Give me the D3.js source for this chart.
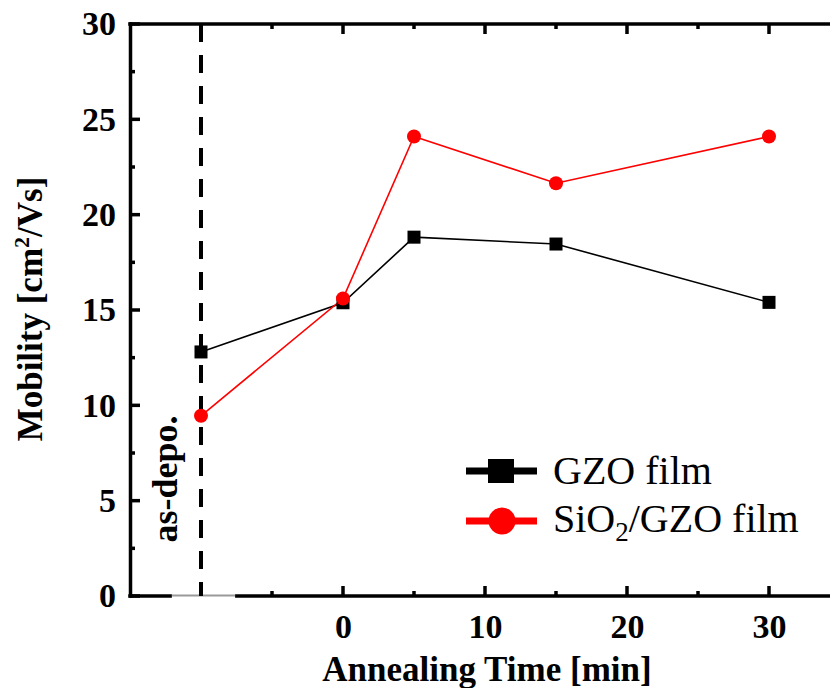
<!DOCTYPE html>
<html>
<head>
<meta charset="utf-8">
<script src="https://cdn.jsdelivr.net/npm/d3@7"></script>
<style>
  html, body { margin: 0; padding: 0; background: #fff; }
  svg { display: block; font-family: "Liberation Serif", "Times New Roman", serif; }
</style>
</head>
<body>
<svg id="chart" width="830" height="688"></svg>
<script>
// Annealing times (min); the as-deposited sample sits at -10 on the time axis
const times = [-10, 0, 5, 15, 30];
const gzoMobility = [12.8, 15.38, 18.82, 18.46, 15.4];
const sio2GzoMobility = [9.45, 15.6, 24.1, 21.65, 24.1];

const xTickLabels = [0, 10, 20, 30];
const xMajorTicks = [-10, 0, 10, 20, 30];
const xMinorTicks = [-5, 5, 15, 25];
const yTickLabels = [0, 5, 10, 15, 20, 25, 30];
const yMinorTicks = [2.5, 7.5, 12.5, 17.5, 22.5, 27.5];
const asDepoTime = -10;
const axisBreak = [-12.05, -7.6];

const svg = d3.select("#chart");
const x = d3.scaleLinear().domain([-15, 35]).range([130, 840]);
const y = d3.scaleLinear().domain([0, 30]).range([596, 24]);

const spineW = 3.5;
const majorLen = 10, minorLen = 5;
const serif = "Liberation Serif, Times New Roman, serif";

// bottom axis labels
const gx = svg.append("g").attr("transform", `translate(0,${y(0)})`)
  .call(d3.axisBottom(x).tickValues(xTickLabels).tickSizeInner(0).tickSizeOuter(0).tickPadding(18));
gx.select(".domain").remove();
gx.selectAll("text").attr("font-size", 34).attr("font-weight", "bold")
  .attr("font-family", serif).attr("fill", "#000");

// left axis labels
const gy = svg.append("g").attr("transform", `translate(${x(-15)},0)`)
  .call(d3.axisLeft(y).tickValues(yTickLabels).tickSizeInner(0).tickSizeOuter(0).tickPadding(14));
gy.select(".domain").remove();
gy.selectAll("text").attr("font-size", 34).attr("font-weight", "bold")
  .attr("font-family", serif).attr("fill", "#000");

const frame = svg.append("g").attr("stroke", "#000").attr("stroke-width", spineW);

// tick marks on all four sides, pointing inward
xMajorTicks.concat(xMinorTicks).forEach(v => {
  const len = xMinorTicks.includes(v) ? minorLen : majorLen;
  if (v !== asDepoTime) {
    frame.append("line").attr("x1", x(v)).attr("x2", x(v)).attr("y1", y(0)).attr("y2", y(0) - len);
  }
  frame.append("line").attr("x1", x(v)).attr("x2", x(v)).attr("y1", y(30)).attr("y2", y(30) + len);
});
yTickLabels.concat(yMinorTicks).forEach(v => {
  const len = yMinorTicks.includes(v) ? minorLen : majorLen;
  frame.append("line").attr("x1", x(-15)).attr("x2", x(-15) + len).attr("y1", y(v)).attr("y2", y(v));
  frame.append("line").attr("x1", x(35)).attr("x2", x(35) - len).attr("y1", y(v)).attr("y2", y(v));
});

// spines; the bottom one is broken around the as-deposited position
frame.append("line").attr("x1", x(-15) + 0.5).attr("x2", x(-15) + 0.5).attr("y1", y(0) + spineW / 2).attr("y2", y(30) - spineW / 2);
frame.append("line").attr("x1", x(35)).attr("x2", x(35)).attr("y1", y(0)).attr("y2", y(30));
frame.append("line").attr("x1", x(-15) - spineW / 2).attr("x2", x(35)).attr("y1", y(30)).attr("y2", y(30));
frame.append("line").attr("x1", x(-15) - spineW / 2).attr("x2", x(axisBreak[0])).attr("y1", y(0)).attr("y2", y(0));
frame.append("line").attr("x1", x(axisBreak[1])).attr("x2", x(35)).attr("y1", y(0)).attr("y2", y(0));
svg.append("line").attr("x1", x(axisBreak[0])).attr("x2", x(axisBreak[1]))
  .attr("y1", y(0) - 0.5).attr("y2", y(0) - 0.5).attr("stroke", "#9a9a9a").attr("stroke-width", 2);

// as-deposited marker line
svg.append("line").attr("x1", x(asDepoTime)).attr("x2", x(asDepoTime))
  .attr("y1", y(30)).attr("y2", y(0))
  .attr("stroke", "#000").attr("stroke-width", 4).attr("stroke-dasharray", "18,13");

svg.append("text").attr("transform", `translate(177,${479}) rotate(-90)`)
  .attr("text-anchor", "middle").attr("font-size", 36).attr("font-weight", "bold").text("as-depo.");

// series
const line = d3.line().x(d => x(d[0])).y(d => y(d[1]));
const gzo = times.map((t, i) => [t, gzoMobility[i]]);
const sio2 = times.map((t, i) => [t, sio2GzoMobility[i]]);

svg.append("path").datum(gzo).attr("d", line).attr("fill", "none").attr("stroke", "#000").attr("stroke-width", 1.6);
svg.append("path").datum(sio2).attr("d", line).attr("fill", "none").attr("stroke", "#ff0000").attr("stroke-width", 1.6);

const sq = 13;
svg.append("g").selectAll("rect").data(gzo).join("rect")
  .attr("x", d => x(d[0]) - sq / 2).attr("y", d => y(d[1]) - sq / 2)
  .attr("width", sq).attr("height", sq).attr("fill", "#000");
svg.append("g").selectAll("circle").data(sio2).join("circle")
  .attr("cx", d => x(d[0])).attr("cy", d => y(d[1])).attr("r", 7).attr("fill", "#ff0000");

// legend
const lg = svg.append("g");
lg.append("line").attr("x1", 466).attr("x2", 537).attr("y1", 471).attr("y2", 471).attr("stroke", "#000").attr("stroke-width", 7);
lg.append("rect").attr("x", 501 - 13).attr("y", 471 - 12).attr("width", 26).attr("height", 24).attr("fill", "#000");
lg.append("text").attr("x", 553).attr("y", 484).attr("font-size", 40).text("GZO film");

lg.append("line").attr("x1", 466).attr("x2", 537).attr("y1", 521).attr("y2", 521).attr("stroke", "#ff0000").attr("stroke-width", 7);
lg.append("circle").attr("cx", 502).attr("cy", 521).attr("r", 13.5).attr("fill", "#ff0000");
const t2 = lg.append("text").attr("x", 553).attr("y", 532).attr("font-size", 40);
t2.append("tspan").text("SiO");
t2.append("tspan").attr("font-size", 27).attr("dy", 9).text("2");
t2.append("tspan").attr("dy", -9).text("/GZO film");

// axis titles
svg.append("text").attr("x", 487).attr("y", 681).attr("text-anchor", "middle")
  .attr("font-size", 35).attr("font-weight", "bold").text("Annealing Time [min]");

const yt = svg.append("text").attr("transform", "translate(42,309) rotate(-90)")
  .attr("text-anchor", "middle").attr("font-size", 35).attr("font-weight", "bold");
yt.append("tspan").text("Mobility [cm");
yt.append("tspan").attr("font-size", 22).attr("dy", -13).text("2");
yt.append("tspan").attr("dy", 13).text("/Vs]");
</script>
</body>
</html>
